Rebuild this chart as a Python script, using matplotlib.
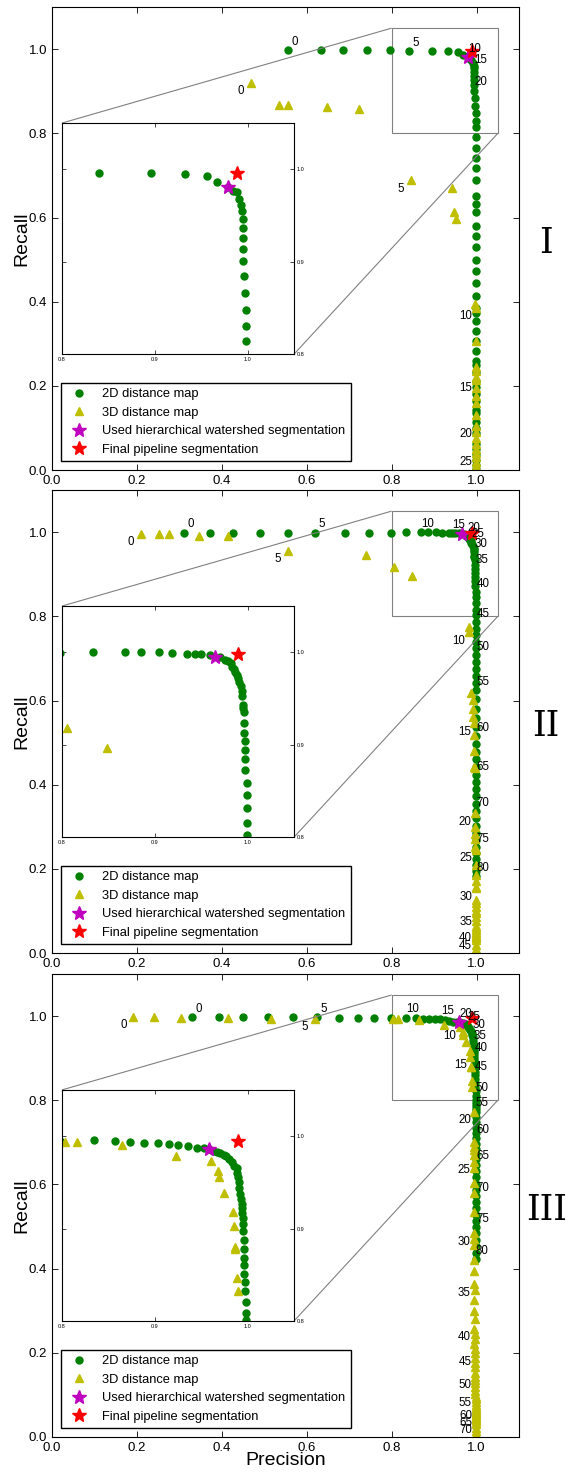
import matplotlib
matplotlib.use("Agg")
import matplotlib.pyplot as plt
from mpl_toolkits.axes_grid1.inset_locator import mark_inset

plt.rcParams["font.family"] = ["Liberation Sans", "DejaVu Sans"]
plt.rcParams["xtick.direction"] = "in"
plt.rcParams["ytick.direction"] = "in"
plt.rcParams["xtick.top"] = True
plt.rcParams["ytick.right"] = True

# ── Panel I ───────────────────────────────────────────────
prec2d_I = [0.555, 0.634, 0.686, 0.742, 0.796, 0.840, 0.896, 0.932, 0.956, 0.967,
            0.979, 0.984, 0.988, 0.991, 0.993, 0.994, 0.995, 0.995, 0.995, 0.995,
            0.995, 0.996, 0.997, 0.998, 0.998, 0.998, 0.998, 0.998, 0.998, 0.998,
            0.998, 0.998, 0.998, 0.998, 0.998, 0.998, 0.998, 0.998, 0.998, 0.998,
            0.998, 0.998, 0.998, 0.998, 0.998, 0.998, 0.998, 0.998, 0.998, 0.998,
            0.998, 0.998, 0.998, 0.998, 0.998, 0.998, 0.998, 0.998, 0.998, 0.998,
            0.998, 0.998, 0.998, 0.998, 0.998]
rec2d_I = [0.998, 0.998, 0.997, 0.997, 0.997, 0.996, 0.996, 0.995, 0.993, 0.986,
           0.981, 0.977, 0.975, 0.968, 0.961, 0.955, 0.946, 0.936, 0.926, 0.914,
           0.901, 0.884, 0.866, 0.848, 0.830, 0.814, 0.791, 0.765, 0.742, 0.717,
           0.690, 0.652, 0.633, 0.612, 0.579, 0.555, 0.530, 0.499, 0.474, 0.444,
           0.414, 0.385, 0.374, 0.354, 0.331, 0.307, 0.283, 0.259, 0.249, 0.232,
           0.212, 0.198, 0.181, 0.164, 0.143, 0.135, 0.114, 0.099, 0.087, 0.063,
           0.050, 0.038, 0.025, 0.012, 0.003]
prec3d_I = [0.469, 0.534, 0.557, 0.647, 0.724, 0.846, 0.941, 0.946, 0.952, 0.997,
            0.998, 0.998, 0.998, 0.998, 0.998, 0.998, 0.998, 0.998, 0.998, 0.998,
            0.998, 0.998, 0.998, 0.998, 0.998, 0.998, 0.998, 0.998, 0.998, 0.998]
rec3d_I = [0.920, 0.867, 0.867, 0.862, 0.857, 0.689, 0.669, 0.612, 0.596, 0.395,
           0.385, 0.307, 0.245, 0.235, 0.222, 0.214, 0.195, 0.175, 0.160, 0.130,
           0.105, 0.090, 0.075, 0.062, 0.050, 0.040, 0.030, 0.020, 0.010, 0.003]
used_I = (0.979, 0.981)
final_I = (0.989, 0.996)
labels2d_I = [0, 5, 10, 15, 20]
labels3d_I = [0, 5, 10, 15, 20, 25]

# ── Panel II ──────────────────────────────────────────────
prec2d_II = [0.310, 0.373, 0.427, 0.491, 0.557, 0.620, 0.689, 0.746, 0.798, 0.833,
             0.868, 0.885, 0.905, 0.919, 0.935, 0.943, 0.950, 0.959, 0.970, 0.976,
             0.979, 0.982, 0.983, 0.985, 0.986, 0.988, 0.990, 0.991, 0.993, 0.994,
             0.994, 0.995, 0.995, 0.996, 0.996, 0.996, 0.997, 0.997, 0.997, 0.997,
             0.999, 0.999, 0.999, 0.999, 0.999, 0.999, 0.999, 0.999, 0.999, 0.999,
             0.999, 0.999, 0.999, 0.999, 0.999, 0.999, 0.999, 0.999, 0.999, 0.999,
             0.999, 0.999, 0.999, 0.999, 0.999, 0.999, 0.999, 0.999, 0.999, 0.999,
             0.999, 0.999, 0.999, 0.999, 0.999, 0.999, 0.999, 0.999, 0.999, 0.999,
             0.999]
rec2d_II = [0.999, 0.999, 0.999, 0.999, 0.999, 0.999, 0.999, 0.999, 0.999, 1.000,
            1.000, 1.000, 1.000, 0.999, 0.998, 0.998, 0.998, 0.997, 0.995, 0.992,
            0.990, 0.988, 0.984, 0.982, 0.979, 0.975, 0.972, 0.968, 0.963, 0.958,
            0.953, 0.943, 0.940, 0.935, 0.923, 0.913, 0.904, 0.894, 0.884, 0.873,
            0.858, 0.845, 0.831, 0.815, 0.802, 0.786, 0.771, 0.756, 0.740, 0.724,
            0.708, 0.692, 0.675, 0.658, 0.641, 0.625, 0.603, 0.581, 0.559, 0.537,
            0.515, 0.497, 0.478, 0.460, 0.441, 0.423, 0.406, 0.389, 0.372, 0.354,
            0.337, 0.320, 0.303, 0.286, 0.269, 0.252, 0.238, 0.224, 0.210, 0.196,
            0.182]
prec3d_II = [0.209, 0.252, 0.275, 0.347, 0.414, 0.556, 0.739, 0.805, 0.848, 0.981,
             0.982, 0.988, 0.992, 0.992, 0.992, 0.995, 0.995, 0.995, 0.995, 0.996,
             0.996, 0.997, 0.997, 0.997, 0.997, 0.998, 0.998, 0.998, 0.998, 0.998,
             0.998, 0.998, 0.998, 0.998, 0.998, 0.998, 0.998, 0.998, 0.998, 0.998,
             0.998, 0.998, 0.998, 0.998, 0.998, 0.998, 0.998, 0.998, 0.998, 0.998]
rec3d_II = [0.996, 0.995, 0.995, 0.992, 0.990, 0.956, 0.945, 0.918, 0.896, 0.774,
            0.762, 0.618, 0.601, 0.580, 0.560, 0.546, 0.518, 0.480, 0.443, 0.440,
            0.332, 0.300, 0.284, 0.270, 0.252, 0.245, 0.209, 0.185, 0.170, 0.157,
            0.154, 0.126, 0.120, 0.110, 0.100, 0.095, 0.085, 0.075, 0.065, 0.060,
            0.055, 0.050, 0.045, 0.040, 0.038, 0.036, 0.030, 0.020, 0.010, 0.005]
used_II = (0.965, 0.995)
final_II = (0.990, 0.998)
labels2d_II = list(range(0, 81, 5))
labels3d_II = list(range(0, 46, 5))

# ── Panel III ─────────────────────────────────────────────
prec2d_III = [0.329, 0.394, 0.449, 0.509, 0.568, 0.624, 0.676, 0.721, 0.759, 0.798,
              0.834, 0.857, 0.873, 0.888, 0.903, 0.915, 0.925, 0.936, 0.945, 0.953,
              0.958, 0.963, 0.967, 0.970, 0.974, 0.977, 0.980, 0.983, 0.985, 0.988,
              0.989, 0.990, 0.991, 0.991, 0.992, 0.993, 0.994, 0.994, 0.994, 0.995,
              0.995, 0.995, 0.996, 0.996, 0.996, 0.996, 0.996, 0.997, 0.997, 0.998,
              0.998, 0.998, 0.998, 0.998, 0.998, 0.998, 0.998, 0.998, 0.998, 0.998,
              0.998, 0.998, 0.998, 0.998, 0.998, 0.998, 0.998, 0.998, 0.998, 0.998,
              0.998, 0.998, 0.998, 0.998, 0.998, 0.998, 0.998, 0.998, 0.998, 0.998,
              0.998]
rec2d_III = [0.998, 0.998, 0.998, 0.998, 0.998, 0.998, 0.996, 0.996, 0.995, 0.995,
             0.996, 0.995, 0.994, 0.993, 0.993, 0.992, 0.990, 0.989, 0.987, 0.987,
             0.986, 0.984, 0.983, 0.982, 0.980, 0.978, 0.975, 0.972, 0.968, 0.965,
             0.960, 0.956, 0.950, 0.944, 0.937, 0.932, 0.927, 0.922, 0.917, 0.911,
             0.905, 0.897, 0.888, 0.878, 0.868, 0.860, 0.851, 0.842, 0.832, 0.821,
             0.809, 0.801, 0.794, 0.787, 0.780, 0.773, 0.760, 0.748, 0.735, 0.723,
             0.710, 0.697, 0.685, 0.672, 0.660, 0.647, 0.632, 0.617, 0.602, 0.587,
             0.572, 0.557, 0.543, 0.528, 0.514, 0.499, 0.484, 0.469, 0.453, 0.438,
             0.423]
prec3d_III = [0.192, 0.241, 0.304, 0.415, 0.517, 0.620, 0.803, 0.816, 0.865, 0.923,
              0.960, 0.968, 0.969, 0.975, 0.984, 0.985, 0.986, 0.986, 0.989, 0.990,
              0.995, 0.994, 0.995, 0.994, 0.995, 0.994, 0.995, 0.994, 0.995, 0.995,
              0.995, 0.994, 0.995, 0.995, 0.995, 0.995, 0.996, 0.995, 0.995, 0.996,
              0.995, 0.996, 0.996, 0.995, 0.996, 0.996, 0.996, 0.997, 0.996, 0.996,
              0.997, 0.997, 0.997, 0.997, 0.997, 0.997, 0.998, 0.998, 0.998, 0.998,
              0.998, 0.998, 0.998, 0.998, 0.998, 0.998, 0.998, 0.998, 0.998, 0.998,
              0.998, 0.998, 0.998, 0.998, 0.998, 0.998]
rec3d_III = [0.998, 0.998, 0.996, 0.996, 0.994, 0.994, 0.994, 0.994, 0.990, 0.979,
             0.973, 0.962, 0.956, 0.938, 0.918, 0.903, 0.880, 0.878, 0.846, 0.832,
             0.773, 0.701, 0.690, 0.682, 0.670, 0.654, 0.638, 0.603, 0.579, 0.535,
             0.484, 0.470, 0.455, 0.420, 0.395, 0.363, 0.350, 0.325, 0.300, 0.280,
             0.257, 0.245, 0.232, 0.220, 0.210, 0.199, 0.188, 0.175, 0.165, 0.153,
             0.143, 0.135, 0.127, 0.118, 0.110, 0.101, 0.095, 0.089, 0.083, 0.077,
             0.071, 0.067, 0.063, 0.060, 0.056, 0.052, 0.049, 0.046, 0.042, 0.039,
             0.036, 0.030, 0.022, 0.015, 0.008, 0.002]
used_III = (0.958, 0.986)
final_III = (0.990, 0.995)
labels2d_III = list(range(0, 81, 5))
labels3d_III = list(range(0, 71, 5))

numerals = ["I", "II", "III"]

panels = [
    (prec2d_I, rec2d_I, prec3d_I, rec3d_I, used_I, final_I, labels2d_I, labels3d_I),
    (prec2d_II, rec2d_II, prec3d_II, rec3d_II, used_II, final_II, labels2d_II, labels3d_II),
    (prec2d_III, rec2d_III, prec3d_III, rec3d_III, used_III, final_III, labels2d_III, labels3d_III),
]


def plot_marks(a, p2, r2, p3, r3, used, final):
    a.plot(p2, r2, "o", color="g", mec="g", ms=5, ls="none", label="2D distance map")
    a.plot(p3, r3, "^", color="y", mec="y", ms=5.5, ls="none", label="3D distance map")
    a.plot([used[0]], [used[1]], "*", color="m", mec="m", ms=10.5, ls="none",
           label="Used hierarchical watershed segmentation")
    a.plot([final[0]], [final[1]], "*", color="r", mec="r", ms=10.5, ls="none",
           label="Final pipeline segmentation")


fig = plt.figure(figsize=(5.71, 14.73), dpi=100)
tops = [0.9952, 0.6673, 0.3388]
height = 0.3143

for k, (p2, r2, p3, r3, used, final, lab2, lab3) in enumerate(panels):
    ax = fig.add_axes([0.091, tops[k] - height, 0.818, height])
    plot_marks(ax, p2, r2, p3, r3, used, final)

    for i in lab2:
        ax.annotate(str(i), (p2[i], r2[i]), xytext=(4.8, 6.0), textcoords="offset points",
                    ha="center", va="center", fontsize=8.3)
    for i in lab3:
        ax.annotate(str(i), (p3[i], r3[i]), xytext=(-7.2, -6.1), textcoords="offset points",
                    ha="center", va="center", fontsize=8.3)

    ax.set_xlim(0, 1.1)
    ax.set_ylim(0, 1.1)
    ax.set_xticks([0.0, 0.2, 0.4, 0.6, 0.8, 1.0])
    ax.set_yticks([0.0, 0.2, 0.4, 0.6, 0.8, 1.0])
    ax.tick_params(labelsize=9.5, length=4, width=0.6)
    ax.set_ylabel("Recall", fontsize=14, labelpad=-1)
    if k == 2:
        ax.set_xlabel("Precision", fontsize=14, labelpad=-1)

    leg = ax.legend(loc="lower left", numpoints=1, fontsize=9.3, fancybox=False,
                    framealpha=1, edgecolor="black", borderaxespad=0.7)
    leg.get_frame().set_linewidth(1.0)

    # zoomed inset of the top-right corner
    axins = ax.inset_axes([0.0214, 0.2505, 0.497, 0.499])
    plot_marks(axins, p2, r2, p3, r3, used, final)
    axins.set_xlim(0.8, 1.05)
    axins.set_ylim(0.8, 1.05)
    axins.set_xticks([0.8, 0.9, 1.0])
    axins.set_yticks([0.8, 0.9, 1.0])
    axins.tick_params(labelsize=4, length=3, width=0.5, labelleft=False, labelright=True, pad=2)
    mark_inset(ax, axins, loc1=2, loc2=4, fc="none", ec="0.5", lw=0.8)

    ax.text(1.058, 0.49, numerals[k], transform=ax.transAxes, fontsize=25,
            family="DejaVu Serif", ha="center", va="center")

fig.savefig("out.png", dpi=100, facecolor="white")
